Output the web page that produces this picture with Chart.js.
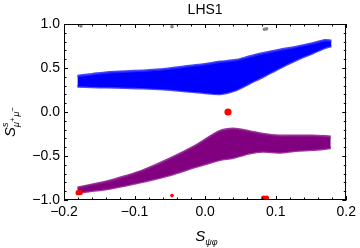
<!DOCTYPE html>
<html>
<head>
<meta charset="utf-8">
<script src="https://cdn.jsdelivr.net/npm/chart.js@4"></script>
<style>
html,body{margin:0;padding:0;background:#fff;}
canvas{display:block;}
</style>
</head>
<body>
<canvas id="c" width="360" height="248"></canvas>
<script>
// ---- data ----
const blueX      = [-0.181,-0.160,-0.139,-0.113,-0.087,-0.059,-0.031,-0.003,0.021,0.044,0.063,0.082,0.105,0.129,0.152,0.170,0.179];
const blueUpper  = [0.41,0.43,0.45,0.46,0.47,0.485,0.515,0.54,0.57,0.59,0.63,0.667,0.705,0.74,0.78,0.815,0.81];
const blueLower  = [0.29,0.285,0.28,0.275,0.27,0.258,0.24,0.22,0.205,0.25,0.326,0.40,0.497,0.59,0.667,0.73,0.75];

const purpleX     = [-0.181,-0.160,-0.139,-0.113,-0.087,-0.050,-0.012,0.020,0.040,0.063,0.082,0.105,0.129,0.152,0.178];
const purpleUpper = [-0.86,-0.825,-0.79,-0.73,-0.66,-0.53,-0.375,-0.22,-0.19,-0.22,-0.25,-0.27,-0.27,-0.27,-0.28];
const purpleLower = [-0.915,-0.895,-0.875,-0.835,-0.79,-0.716,-0.62,-0.545,-0.52,-0.47,-0.45,-0.46,-0.44,-0.43,-0.41];

const redBigX   = [0.0324];
const redBigY   = [0.0];
const redMidX   = [-0.180,-0.177,0.083,0.087];
const redMidY   = [-0.917,-0.915,-0.977,-0.977];
const redSmallX = [-0.047];
const redSmallY = [-0.95];

const grayX = [-0.176,-0.047,0.084,0.087];
const grayY = [0.977,0.97,0.94,0.945];

const xTicks = [-0.2,-0.1,0.0,0.1,0.2];
const yTicks = [-1.0,-0.5,0.0,0.5,1.0];
const titleText = "LHS1";

// ---- helpers ----
const pts = (xs, ys) => xs.map((x, i) => ({x: x, y: ys[i]}));
const fmt = v => { const r = Math.round(v * 10) / 10; return (r < 0 ? "\u2212" : "") + Math.abs(r).toFixed(1); };
const FONT = "'Liberation Sans', Arial, Helvetica, sans-serif";

const framePlugin = {
  id: 'frame',
  afterDraw(chart) {
    const ctx = chart.ctx, a = chart.chartArea;
    const xs = chart.scales.x, ys = chart.scales.y;
    ctx.save();
    ctx.strokeStyle = '#000';
    ctx.lineWidth = 1;
    ctx.strokeRect(Math.round(a.left) + 0.5, Math.round(a.top) + 0.5, Math.round(a.right - a.left) - 1, Math.round(a.bottom - a.top) - 1);
    ctx.beginPath();
    for (let k = -10; k <= 10; k++) {
      const v = k * 0.02;
      const px = Math.round(xs.getPixelForValue(v)) + 0.5;
      const len = (k % 5 === 0) ? 4 : 2.5;
      ctx.moveTo(px, a.bottom); ctx.lineTo(px, a.bottom - len);
      ctx.moveTo(px, a.top); ctx.lineTo(px, a.top + len);
    }
    for (let k = -10; k <= 10; k++) {
      const v = k * 0.1;
      const py = Math.round(ys.getPixelForValue(v)) + 0.5;
      const len = (k % 5 === 0) ? 4 : 2.5;
      ctx.moveTo(a.left, py); ctx.lineTo(a.left + len, py);
      ctx.moveTo(a.right, py); ctx.lineTo(a.right - len, py);
    }
    ctx.stroke();

    ctx.fillStyle = '#000';
    ctx.font = "14px " + FONT;
    ctx.textAlign = 'center';
    ctx.textBaseline = 'alphabetic';
    ctx.fillText(titleText, (a.left + a.right) / 2, 14);

    ctx.textAlign = 'left';
    ctx.font = "italic 15px " + FONT;
    const cx = (a.left + a.right) / 2 - 10;
    ctx.fillText("S", cx, 241);
    const sw = ctx.measureText("S").width;
    ctx.font = "italic 9px " + FONT;
    ctx.fillText("\u03C8\u03C6", cx + sw, 245);

    ctx.save();
    ctx.translate(15, (a.top + a.bottom) / 2 + 25);
    ctx.rotate(-Math.PI / 2);
    ctx.font = "italic 15px " + FONT;
    ctx.fillText("S", 0, 0);
    let u = ctx.measureText("S").width;
    ctx.font = "italic 9px " + FONT;
    ctx.fillText("s", u, -7);
    ctx.fillText("\u03BC", u, 4);
    u += ctx.measureText("\u03BC").width;
    ctx.font = "8px " + FONT;
    ctx.fillText("+", u, 0);
    u += ctx.measureText("+").width + 1;
    ctx.font = "italic 9px " + FONT;
    ctx.fillText("\u03BC", u, 4);
    u += ctx.measureText("\u03BC").width;
    ctx.font = "8px " + FONT;
    ctx.fillText("\u2212", u, 0);
    ctx.restore();
    ctx.restore();
  }
};

const bandStyle = (col, edge) => ({
  showLine: true, pointRadius: 0, borderColor: edge, backgroundColor: col,
  borderWidth: 2.5, tension: 0.3
});

new Chart(document.getElementById('c'), {
  type: 'scatter',
  data: {
    datasets: [
      { data: pts(redBigX, redBigY), showLine: false, pointRadius: 3.6, pointBackgroundColor: '#ff0000', pointBorderWidth: 0, order: 0 },
      { data: pts(redMidX, redMidY), showLine: false, pointRadius: 2.6, pointBackgroundColor: '#ff0000', pointBorderWidth: 0, order: 0 },
      { data: pts(redSmallX, redSmallY), showLine: false, pointRadius: 1.8, pointBackgroundColor: '#ff0000', pointBorderWidth: 0, order: 0 },
      { data: pts(grayX, grayY), showLine: false, pointRadius: 1.8, pointBackgroundColor: '#888888', pointBorderWidth: 0, order: 0 },
      Object.assign(bandStyle('#0000ff', 'rgba(40,40,255,0.85)'), { data: pts(blueX, blueUpper), fill: '+1', order: 2 }),
      Object.assign(bandStyle('#0000ff', 'rgba(40,40,255,0.85)'), { data: pts(blueX, blueLower), fill: false, order: 2 }),
      Object.assign(bandStyle('#800080', 'rgba(140,20,140,0.85)'), { data: pts(purpleX, purpleUpper), fill: '+1', order: 2 }),
      Object.assign(bandStyle('#800080', 'rgba(140,20,140,0.85)'), { data: pts(purpleX, purpleLower), fill: false, order: 2 })
    ]
  },
  options: {
    responsive: false,
    animation: false,
    devicePixelRatio: 1,
    layout: { padding: { left: 0, right: 12, top: 24, bottom: 0 } },
    plugins: { legend: { display: false }, tooltip: { enabled: false }, title: { display: false } },
    scales: {
      x: {
        type: 'linear', min: -0.2, max: 0.2,
        afterFit(s) { s.height = 48; },
        afterBuildTicks(s) { s.ticks = xTicks.map(v => ({ value: v })); },
        grid: { display: false, drawTicks: false },
        border: { display: false },
        ticks: { color: '#000', font: { size: 14, family: FONT }, padding: 4, maxRotation: 0, autoSkip: false, callback: fmt }
      },
      y: {
        type: 'linear', min: -1, max: 1,
        afterFit(s) { s.width = 64; },
        afterBuildTicks(s) { s.ticks = yTicks.map(v => ({ value: v })); },
        grid: { display: false, drawTicks: false },
        border: { display: false },
        ticks: { color: '#000', font: { size: 14, family: FONT }, padding: 4, autoSkip: false, callback: fmt }
      }
    }
  },
  plugins: [framePlugin]
});
</script>
</body>
</html>
